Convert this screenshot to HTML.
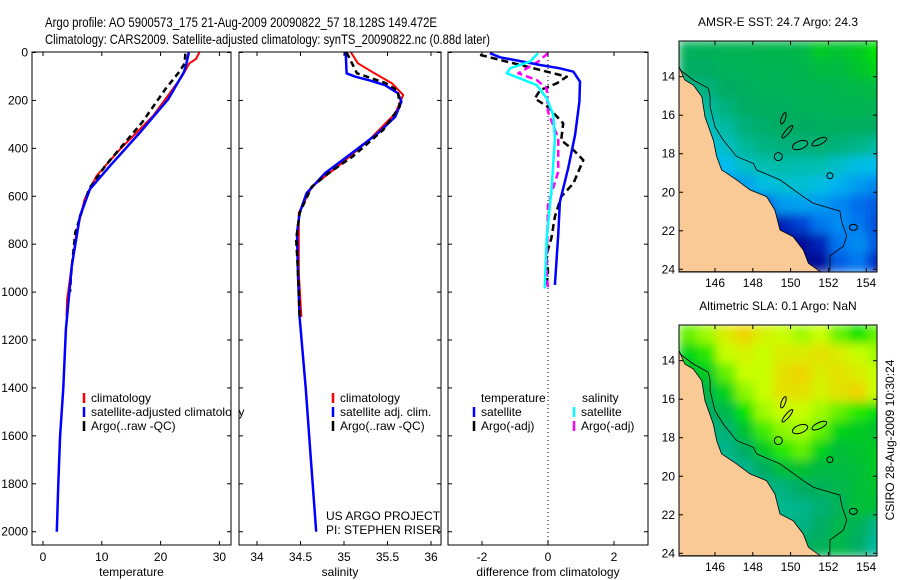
<!DOCTYPE html>
<html><head><meta charset="utf-8"><style>
body{margin:0;background:#fff}
svg{display:block;font-family:"Liberation Sans",sans-serif}
text{fill:#000}
</style></head><body>
<svg id="fig" width="900" height="580" viewBox="0 0 900 580" xmlns="http://www.w3.org/2000/svg">
<defs>
<filter id="blur" x="0" y="0" width="1" height="1"><feGaussianBlur stdDeviation="5" edgeMode="duplicate"/></filter>
<clipPath id="clipMap1"><rect x="679" y="41" width="198" height="231"/></clipPath>
<clipPath id="clipMap2"><rect x="679" y="325" width="198" height="231"/></clipPath>
</defs>
<text x="45" y="27" font-size="14" textLength="392" lengthAdjust="spacingAndGlyphs">Argo profile: AO 5900573_175 21-Aug-2009 20090822_57 18.128S 149.472E</text>
<text x="45" y="44" font-size="14" textLength="445" lengthAdjust="spacingAndGlyphs">Climatology: CARS2009. Satellite-adjusted climatology: synTS_20090822.nc (0.88d later)</text>
<g id="layer"></g>
</svg>
<script>
// ---------- profile data (depth in m) ----------
const tClimDepth = [0,27,45,101,265,404,515,612,751,1030,1100];
const tClimVal   = [26.6,26.0,24.9,23.6,18.7,13.1,9.1,7.1,5.7,4.1,4.0];
const tSatDepth  = [0,45,80,195,334,473,570,682,890,1155,1400,1600,1800,2000];
const tSatVal    = [24.8,24.4,24.0,21.3,16.5,11.4,8.0,6.3,4.9,3.9,3.45,2.9,2.6,2.35];
const tArgoDepth = [5,45,80,150,290,473,570,751,920,1000];
const tArgoVal   = [24.2,24.1,23.2,20.9,16.9,10.6,7.8,5.5,4.8,4.6];

const sClimDepth = [0,45,87,128,177,254,365,476,560,670,920,1104];
const sClimVal   = [35.08,35.16,35.35,35.55,35.68,35.59,35.29,34.93,34.63,34.48,34.48,34.51];
const sSatDepth  = [0,87,101,115,136,170,205,268,337,420,504,587,670,754,920,1104,1400,1700,2000];
const sSatVal    = [35.02,35.03,35.13,35.28,35.47,35.62,35.66,35.59,35.39,35.09,34.78,34.57,34.49,34.46,34.47,34.49,34.56,34.62,34.68];
const sArgoDepth = [0,87,128,160,226,323,434,504,560,670,781,906,1100];
const sArgoVal   = [35.03,35.15,35.48,35.62,35.64,35.45,35.10,34.82,34.63,34.49,34.45,34.47,34.49];

const dTSatDepth = [3,20,38,52,66,80,122,205,344,484,623,762,970];
const dTSatVal   = [-1.76,-1.45,-0.76,-0.24,0.36,0.77,0.97,0.95,0.82,0.61,0.36,0.31,0.21];
const dTArgoDepth= [10,38,59,87,101,129,157,192,227,296,366,407,449,546,602,685,776,846,915,985];
const dTArgoVal  = [-2.06,-1.25,-0.64,0.16,0.57,0.26,-0.24,-0.4,0,0.46,0.4,0.77,1.07,0.77,0.4,0.21,0.1,-0.05,0,-0.05];
const dSSatDepth = [3,38,66,87,108,136,191,261,358,567,776,985];
const dSSatVal   = [-0.3,-0.55,-1.15,-1.25,-0.85,-0.34,-0.04,0.16,0.21,0.11,-0.04,-0.1];
const dSArgoDepth= [3,38,66,87,115,150,247,358,497,636,776,914,985];
const dSArgoVal  = [0,-0.3,-0.64,-0.9,-0.34,-0.04,0,0.31,0.31,0,-0.02,-0.04,0];

const depthTicks = [0,200,400,600,800,1000,1200,1400,1600,1800,2000];
const tempTicks = [0,10,20,30];
const salTicks = [34,34.5,35,35.5,36];
const salTickLabels = ["34","34.5","35","35.5","36"];
const diffTicks = [-2,0,2];

// ---------- map data ----------
const lonTicks = [146,148,150,152,154];
const latTicks = [14,16,18,20,22,24];
const sstGrid = [
[.62,.62,.63,.63,.64,.64,.65,.72,.70,.72,.80],
[.60,.60,.62,.62,.63,.63,.64,.66,.66,.70,.75],
[.55,.57,.60,.61,.62,.62,.63,.63,.64,.65,.66],
[.50,.52,.57,.60,.61,.61,.62,.62,.63,.63,.63],
[.45,.48,.52,.57,.59,.60,.60,.61,.61,.61,.60],
[.40,.42,.47,.53,.56,.57,.57,.58,.57,.55,.52],
[.38,.38,.40,.47,.50,.51,.50,.50,.46,.42,.40],
[.30,.30,.33,.36,.42,.45,.45,.42,.38,.35,.32],
[.25,.25,.25,.30,.25,.35,.36,.35,.32,.28,.25],
[.20,.20,.20,.20,.15,.12,.20,.30,.33,.30,.22],
[.10,.10,.10,.10,.08,.05,.05,.12,.30,.33,.25],
[.05,.05,.05,.05,.03,.02,.03,.05,.25,.30,.15]];
const slaGrid = [
[.85,.88,.93,.97,.92,.90,.88,.90,.85,.80,.85],
[.75,.82,.90,.92,.90,.93,.93,.95,.93,.90,.88],
[.70,.72,.85,.90,.90,.95,.97,.93,.95,.93,.90],
[.65,.65,.75,.87,.90,.95,.95,.92,.95,.97,.90],
[.60,.60,.65,.80,.88,.90,.90,.88,.85,.82,.78],
[.55,.55,.58,.70,.83,.87,.88,.85,.75,.72,.70],
[.52,.52,.55,.60,.72,.82,.85,.75,.68,.70,.72],
[.50,.50,.52,.55,.60,.68,.70,.66,.66,.68,.72],
[.50,.50,.50,.52,.55,.57,.60,.62,.64,.68,.70],
[.50,.50,.50,.50,.52,.54,.55,.58,.62,.68,.68],
[.50,.50,.50,.50,.52,.55,.56,.60,.65,.62,.55],
[.50,.50,.50,.50,.55,.58,.60,.62,.65,.60,.52]];
const coastLon = [144.1,144.4,144.85,145.3,145.47,145.91,146.09,146.35,147.15,147.85,148.73,149.17,149.44,150.14,150.67,150.94,151.56,144.1];
const coastLat = [13.48,14.17,14.43,15.04,16.08,17.29,18.15,18.84,19.36,19.88,20.23,20.92,21.96,22.31,23.0,23.69,24.12,24.12];
const isoLon = [144.15,144.85,145.65,145.74,145.74,146.0,146.44,147.15,148.03,148.2,149.44,150.67,151.2,152.61,152.7,152.97,152.79,152.08,152.08];
const isoLat = [13.65,14.17,14.6,15.04,15.56,16.6,17.29,18.15,18.5,18.84,19.36,20.23,20.57,20.98,21.5,22.28,22.8,23.31,24.1];
const reefLon = [149.62,149.83,150.5,151.52,149.35,152.08,153.32];
const reefLat = [16.16,16.86,17.55,17.37,18.15,19.14,21.82];

const NS="http://www.w3.org/2000/svg";
const layer=document.getElementById('layer');
function mk(tag,attrs,parent){const e=document.createElementNS(NS,tag);for(const k in attrs)e.setAttribute(k,attrs[k]);(parent||layer).appendChild(e);return e;}

// ---------- profile axes ----------
const sy = d => 52.5 + 0.2396*d;
const panels = [
 {x0:32,x1:231,sx:v=>43+5.88*v,ticks:tempTicks,labels:tempTicks.map(String),label:"temperature",name:"temperature-panel"},
 {x0:239,x1:441,sx:v=>257+(v-34)*87,ticks:salTicks,labels:salTickLabels,label:"salinity",name:"salinity-panel"},
 {x0:448,x1:648,sx:v=>548+33*v,ticks:diffTicks,labels:diffTicks.map(String),label:"difference from climatology",name:"difference-panel"}
];
const TOP=52, BOT=545;

function line(g,sx,depths,vals,color,w,dash,name){
  let d='';
  for(let i=0;i<depths.length;i++){d+=(i?'L':'M')+sx(vals[i]).toFixed(1)+','+sy(depths[i]).toFixed(1);}
  const p=mk('path',{d:d,fill:'none',stroke:color,'stroke-width':w,'stroke-dasharray':dash||'none','stroke-linejoin':'round'},g);
  
  
}

panels.forEach((P,pi)=>{
  const g=mk('g',{});
  
  
  const bg=mk('rect',{x:P.x0,y:TOP,width:P.x1-P.x0,height:BOT-TOP,fill:'#fff',stroke:'none'},g);
  
  
  const cg=mk('g',{'clip-path':'none'},g);
  if(pi===0){
    line(cg,P.sx,tClimDepth,tClimVal,'#f00',2,null,'temp-climatology-line');
    line(cg,P.sx,tArgoDepth,tArgoVal,'#000',2.5,'6,4','temp-argo-line');
    line(cg,P.sx,tSatDepth,tSatVal,'#00f',2.5,null,'temp-satellite-line');
  } else if(pi===1){
    line(cg,P.sx,sClimDepth,sClimVal,'#f00',2,null,'sal-climatology-line');
    line(cg,P.sx,sSatDepth,sSatVal,'#00f',2.5,null,'sal-satellite-line');
    line(cg,P.sx,sArgoDepth,sArgoVal,'#000',2.5,'6,4','sal-argo-line');
  } else {
    const z=mk('line',{x1:P.sx(0),x2:P.sx(0),y1:TOP,y2:BOT,stroke:'#000','stroke-width':1,'stroke-dasharray':'1,3'},cg);
    
    
    line(cg,P.sx,dTArgoDepth,dTArgoVal,'#000',2.5,'7,4','diff-temp-argo-line');
    line(cg,P.sx,dSArgoDepth,dSArgoVal,'#f0f',2.5,'7,4','diff-sal-argo-line');
    line(cg,P.sx,dTSatDepth,dTSatVal,'#00f',2.5,null,'diff-temp-satellite-line');
    line(cg,P.sx,dSSatDepth,dSSatVal,'#0ff',2.5,null,'diff-sal-satellite-line');
  }
  // ticks
  depthTicks.forEach(d=>{
    const y=sy(d);
    mk('line',{x1:P.x0,x2:P.x0+4,y1:y,y2:y,stroke:'#000'},g);
    mk('line',{x1:P.x1-4,x2:P.x1,y1:y,y2:y,stroke:'#000'},g);
    if(pi===0){
      const t=mk('text',{x:28,y:y+4,'font-size':12,'text-anchor':'end'},g);
      t.textContent=d;
      
      
    }
  });
  P.ticks.forEach((v,i)=>{
    const x=P.sx(v);
    mk('line',{x1:x,x2:x,y1:BOT,y2:BOT-4,stroke:'#000'},g);
    mk('line',{x1:x,x2:x,y1:TOP,y2:TOP+4,stroke:'#000'},g);
    const t=mk('text',{x:x,y:561,'font-size':12,'text-anchor':'middle'},g);
    t.textContent=P.labels[i];
    
    
  });
  const fr=mk('rect',{x:P.x0,y:TOP,width:P.x1-P.x0,height:BOT-TOP,fill:'none',stroke:'#000','stroke-width':1},g);
  
  
  const xl=mk('text',{x:(P.x0+P.x1)/2,y:576,'font-size':12,'text-anchor':'middle'},g);
  xl.textContent=P.label;
  
  
});

// ---------- legends ----------
function legendEntry(mx,tx,y,color,label,name){
  if(color){
    const m=mk('line',{x1:mx,x2:mx,y1:y-9,y2:y+1,stroke:color,'stroke-width':2.5});
    
    
  }
  const t=mk('text',{x:tx,y:y,'font-size':12});
  t.textContent=label;
  
  
  return t;
}
legendEntry(84,91,402,'#f00','climatology','legend-climatology');
legendEntry(84,91,416,'#00f','satellite-adjusted climatology','legend-satellite-adjusted');
legendEntry(84,91,430,'#000','Argo(..raw -QC)','legend-argo');
// cover overflow of panel1 legend by panel 2 background
const cover=mk('rect',{x:232,y:395,width:7,height:40,fill:'#fff'});


mk('line',{x1:239,x2:239,y1:TOP,y2:BOT,stroke:'#000'});
mk('line',{x1:231,x2:231,y1:TOP,y2:BOT,stroke:'#000'});
legendEntry(333,340,402,'#f00','climatology','legend2-climatology');
legendEntry(333,340,416,'#00f','satellite adj. clim.','legend2-satellite');
legendEntry(333,340,430,'#000','Argo(..raw -QC)','legend2-argo');
legendEntry(0,481,402,null,'temperature','legend3-temperature-header');
legendEntry(474,481,416,'#00f','satellite','legend3-temp-satellite');
legendEntry(474,481,430,'#000','Argo(-adj)','legend3-temp-argo');
legendEntry(0,582,402,null,'salinity','legend3-salinity-header');
legendEntry(574,581,416,'#0ff','satellite','legend3-sal-satellite');
legendEntry(574,581,430,'#f0f','Argo(-adj)','legend3-sal-argo');
legendEntry(0,326,520,null,'US ARGO PROJECT','project-credit');
legendEntry(0,326,534,null,'PI: STEPHEN RISER','pi-credit');

// ---------- maps ----------
const stops=[[0,[0,0,130]],[.15,[0,40,200]],[.3,[0,120,240]],[.4,[0,190,240]],[.5,[0,190,175]],[.6,[0,172,100]],[.7,[0,195,45]],[.8,[0,228,0]],[.9,[200,255,0]],[1,[255,195,0]]];
function cmap(v){
  for(let i=1;i<stops.length;i++){
    if(v<=stops[i][0]){const a=stops[i-1],b=stops[i],f=(v-a[0])/(b[0]-a[0]);
      return 'rgb('+a[1].map((c,k)=>Math.round(c+(b[1][k]-c)*f)).join(',')+')';}
  }
  return 'rgb(255,195,0)';
}
function drawMap(oy,grid,title,clipId,name){
  const lx=lon=>715+(lon-146)*18.9;
  const ly=lat=>oy+76.7+(lat-14)*19.26;
  const g=mk('g',{});
  
  
  const hg=mk('g',{'clip-path':'url(#'+clipId+')'},g);
  const inner=mk('g',{filter:'url(#blur)'},hg);
  grid.forEach((row,j)=>row.forEach((v,i)=>{
    const c=mk('rect',{x:lx(144.1+i)-0.5,y:ly(12.15+j)-0.5,width:19.9,height:20.3,fill:cmap(v)},inner);
    
    
  }));
  let d='';coastLon.forEach((lo,i)=>{d+=(i?'L':'M')+lx(lo).toFixed(1)+','+ly(coastLat[i]).toFixed(1);});
  const land=mk('path',{d:d+'Z',fill:'#f9c996',stroke:'#000','stroke-width':0.8},hg);
  
  
  d='';isoLon.forEach((lo,i)=>{d+=(i?'L':'M')+lx(lo).toFixed(1)+','+ly(isoLat[i]).toFixed(1);});
  const iso=mk('path',{d:d,fill:'none',stroke:'#000','stroke-width':0.8},hg);
  
  
  const rShape=[[2,6,20],[2,8,40],[8,4,-20],[8,3,-25],[4,4,0],[3,3,0],[4,3,0]];
  reefLon.forEach((lo,i)=>{
    const s=rShape[i];
    const e=mk('ellipse',{cx:lx(lo),cy:ly(reefLat[i]),rx:s[0],ry:s[1],transform:'rotate('+s[2]+' '+lx(lo)+' '+ly(reefLat[i])+')',fill:'none',stroke:'#000','stroke-width':1},hg);
    
    
  });
  const fr=mk('rect',{x:679,y:oy+41,width:198,height:231,fill:'none',stroke:'#000'},g);
  
  
  lonTicks.forEach(lo=>{
    const x=lx(lo);
    mk('line',{x1:x,x2:x,y1:oy+41,y2:oy+45,stroke:'#000'},g);
    mk('line',{x1:x,x2:x,y1:oy+272,y2:oy+268,stroke:'#000'},g);
    const t=mk('text',{x:x,y:oy+287,'font-size':12,'text-anchor':'middle'},g);
    t.textContent=lo;
    
    
  });
  latTicks.forEach(la=>{
    const y=ly(la);
    mk('line',{x1:679,x2:683,y1:y,y2:y,stroke:'#000'},g);
    mk('line',{x1:877,x2:873,y1:y,y2:y,stroke:'#000'},g);
    const t=mk('text',{x:675,y:y+4,'font-size':12,'text-anchor':'end'},g);
    t.textContent=la;
    
    
  });
  const tt=mk('text',{x:778,y:oy+26,'font-size':12,'text-anchor':'middle'},g);
  tt.textContent=title;
  
  
}
drawMap(0,sstGrid,'AMSR-E SST: 24.7  Argo: 24.3','clipMap1','sst-map');
drawMap(284,slaGrid,'Altimetric SLA: 0.1  Argo: NaN','clipMap2','sla-map');
const stamp=mk('text',{x:0,y:0,'font-size':12,'text-anchor':'middle',transform:'translate(894,440) rotate(-90)'});
stamp.textContent='CSIRO 28-Aug-2009 10:30:24';


</script>
</body></html>
